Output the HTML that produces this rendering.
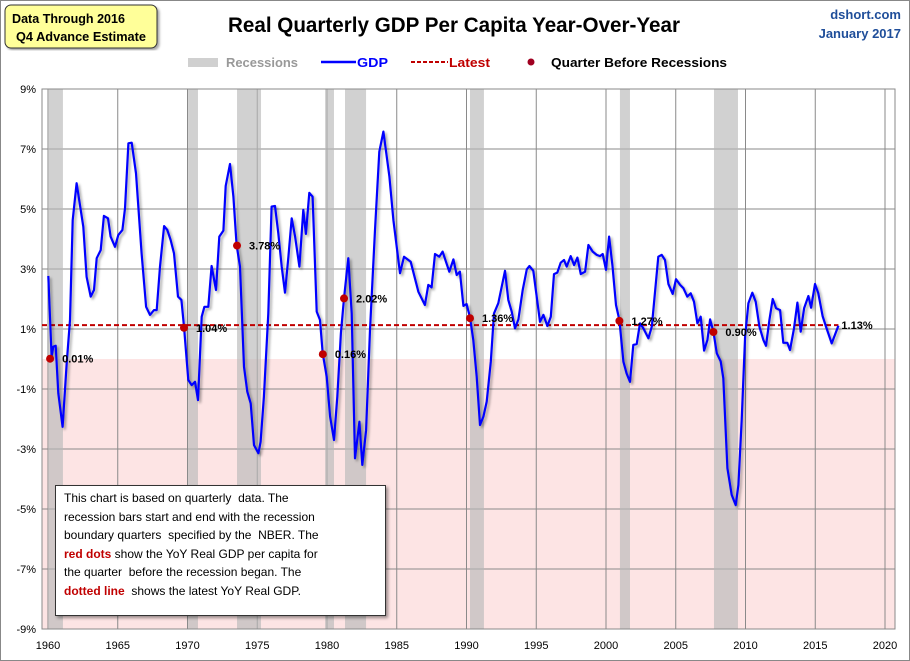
<!DOCTYPE html>
<html><head><meta charset="utf-8"><style>
body{margin:0;background:#fff;}
#wrap{position:relative;width:910px;height:661px;overflow:hidden;font-family:"Liberation Sans",sans-serif;}
svg text{font-family:"Liberation Sans",sans-serif;}
.note{position:absolute;left:55px;top:485px;width:313px;height:123px;border:1px solid #333;background:#fff;font-family:"Liberation Sans",sans-serif;font-size:12px;line-height:18.5px;padding:3px 8px;box-shadow:2px 2px 3px rgba(0,0,0,.4);white-space:nowrap;}
.note b{color:#c00000;}
</style></head><body>
<div id="wrap">
<svg id="svg" width="910" height="661" xmlns="http://www.w3.org/2000/svg">
<defs><filter id="sh" x="-5%" y="-5%" width="110%" height="110%"><feDropShadow dx="2" dy="2" stdDeviation="1.2" flood-color="#000" flood-opacity="0.35"/></filter></defs>
<rect x="0.5" y="0.5" width="909" height="660" fill="#fff" stroke="#888"/>
<rect x="5" y="5" width="152" height="43" rx="6" fill="#ffff99" stroke="#333" filter="url(#sh)"/>
<text x="12" y="23" font-size="13" font-weight="bold" textLength="113" lengthAdjust="spacingAndGlyphs">Data Through 2016</text>
<text x="16" y="41" font-size="13" font-weight="bold" textLength="130" lengthAdjust="spacingAndGlyphs">Q4 Advance Estimate</text>
<text x="228" y="32" font-size="21" font-weight="bold" textLength="452" lengthAdjust="spacingAndGlyphs">Real Quarterly GDP Per Capita Year-Over-Year</text>
<text x="901" y="19" font-size="13" font-weight="bold" fill="#1f4e9a" text-anchor="end">dshort.com</text>
<text x="901" y="38" font-size="13" font-weight="bold" fill="#1f4e9a" text-anchor="end">January 2017</text>
<g>
<rect x="188" y="58" width="30" height="9" fill="#d0d0d0"/>
<text x="226" y="67" font-size="13" font-weight="bold" fill="#999" textLength="72" lengthAdjust="spacingAndGlyphs">Recessions</text>
<line x1="321" y1="62" x2="356" y2="62" stroke="#0000ff" stroke-width="2.5"/>
<text x="357" y="67" font-size="13" font-weight="bold" fill="#0000ff" textLength="31" lengthAdjust="spacingAndGlyphs">GDP</text>
<line x1="411" y1="62" x2="448" y2="62" stroke="#c00000" stroke-width="2" stroke-dasharray="4,2"/>
<text x="449" y="67" font-size="13" font-weight="bold" fill="#c00000" textLength="41" lengthAdjust="spacingAndGlyphs">Latest</text>
<circle cx="531" cy="62" r="3.5" fill="#a00020"/>
<text x="551" y="67" font-size="13" font-weight="bold" textLength="176" lengthAdjust="spacingAndGlyphs">Quarter Before Recessions</text>
</g>
<g id="plot"></g>
</svg>
<div class="note">This chart is based on quarterly &nbsp;data. The<br>recession bars start and end with the recession<br>boundary quarters &nbsp;specified by the &nbsp;NBER. The<br><b>red dots</b> show the YoY Real GDP per capita for<br>the quarter &nbsp;before the recession began. The<br><b>dotted line</b> &nbsp;shows the latest YoY Real GDP.</div>
</div>
<script>
const yTicks=[9,7,5,3,1,-1,-3,-5,-7,-9];
const xTicks=[1960,1965,1970,1975,1980,1985,1990,1995,2000,2005,2010,2015,2020];
const recStart=[1960.0,1970.04,1973.55,1979.86,1981.29,1990.25,2001.0,2007.74];
const recEnd=[1961.07,1970.75,1975.27,1980.5,1982.8,1991.25,2001.72,2009.46];
const latest=1.13;
const dotYears=[1960.15,1969.75,1973.55,1979.7,1981.22,1990.25,2000.96,2007.7];
const dotVals=[0.01,1.04,3.78,0.16,2.02,1.36,1.27,0.90];
const dotLabels=["0.01%","1.04%","3.78%","0.16%","2.02%","1.36%","1.27%","0.90%"];
const gdpYears=[1960.02,1960.26,1960.38,1960.55,1960.74,1961.05,1961.34,1961.58,1961.77,1962.05,1962.53,1962.77,1963.06,1963.30,1963.49,1963.78,1964.01,1964.30,1964.49,1964.80,1965.04,1965.33,1965.52,1965.76,1966.00,1966.31,1966.71,1967.03,1967.31,1967.60,1967.79,1968.03,1968.32,1968.55,1968.79,1969.03,1969.32,1969.56,1969.75,1970.06,1970.30,1970.54,1970.75,1971.02,1971.21,1971.49,1971.73,1972.04,1972.28,1972.57,1972.74,1973.05,1973.29,1973.52,1973.76,1974.05,1974.29,1974.53,1974.77,1975.08,1975.24,1975.48,1975.79,1976.03,1976.27,1976.51,1976.75,1976.99,1977.23,1977.47,1977.71,1978.02,1978.30,1978.49,1978.73,1978.97,1979.26,1979.50,1979.69,1979.98,1980.22,1980.50,1980.74,1981.00,1981.22,1981.53,1981.77,1982.01,1982.32,1982.53,1982.80,1983.08,1983.44,1983.75,1984.04,1984.47,1984.76,1985.23,1985.52,1986.00,1986.55,1987.02,1987.26,1987.50,1987.74,1988.05,1988.29,1988.77,1989.06,1989.30,1989.53,1989.78,1990.01,1990.25,1990.49,1990.73,1990.97,1991.21,1991.45,1991.74,1991.97,1992.28,1992.76,1993.00,1993.24,1993.48,1993.72,1994.03,1994.32,1994.51,1994.79,1995.03,1995.27,1995.51,1995.80,1996.04,1996.27,1996.51,1996.75,1996.99,1997.18,1997.47,1997.71,1997.95,1998.19,1998.50,1998.74,1999.05,1999.33,1999.57,1999.76,2000.00,2000.22,2000.46,2000.72,2000.96,2001.25,2001.48,2001.72,2001.96,2002.20,2002.44,2002.68,2003.04,2003.28,2003.75,2003.99,2004.23,2004.47,2004.78,2005.02,2005.31,2005.55,2005.83,2006.07,2006.31,2006.55,2006.79,2007.03,2007.27,2007.46,2007.70,2007.94,2008.22,2008.41,2008.70,2009.01,2009.30,2009.49,2009.73,2009.97,2010.21,2010.49,2010.73,2011.00,2011.28,2011.47,2011.71,2011.95,2012.19,2012.48,2012.71,2013.00,2013.19,2013.48,2013.72,2013.96,2014.20,2014.51,2014.70,2014.98,2015.22,2015.53,2015.77,2016.18,2016.66];
const gdpVals=[2.77,0.08,0.41,0.44,-1.14,-2.26,-0.14,1.30,4.63,5.86,4.41,2.74,2.08,2.30,3.36,3.63,4.77,4.69,4.08,3.74,4.13,4.30,5.02,7.19,7.21,6.19,3.52,1.74,1.47,1.63,1.63,3.08,4.43,4.30,3.97,3.52,2.08,1.97,1.08,-0.70,-0.87,-0.76,-1.37,1.41,1.74,1.74,3.10,2.30,4.08,4.28,5.77,6.50,5.41,3.80,3.08,-0.26,-1.09,-1.48,-2.87,-3.14,-2.76,-1.26,1.52,5.08,5.10,4.19,3.08,2.21,3.41,4.69,4.08,3.08,4.97,4.17,5.54,5.41,1.58,1.30,0.19,-0.59,-1.92,-2.70,-1.26,0.86,2.02,3.36,1.52,-3.31,-2.09,-3.53,-2.37,0.97,4.30,6.91,7.58,6.08,4.63,2.86,3.41,3.24,2.24,1.80,2.47,2.39,3.50,3.41,3.58,2.91,3.32,2.80,2.91,1.77,1.83,1.39,0.63,-0.59,-2.20,-1.92,-1.42,-0.09,1.52,1.86,2.94,1.97,1.58,1.02,1.32,2.30,2.99,3.10,2.94,2.08,1.24,1.47,1.10,1.41,2.83,2.88,3.21,3.30,3.08,3.43,3.13,3.38,2.83,2.91,3.80,3.58,3.47,3.43,3.50,2.97,4.08,3.13,1.80,1.30,-0.09,-0.48,-0.76,0.47,0.50,1.19,1.02,0.69,1.08,3.41,3.47,3.30,2.50,2.17,2.66,2.47,2.36,2.08,2.19,1.91,1.19,1.41,0.28,0.63,1.32,0.91,0.19,-0.08,-0.64,-3.64,-4.53,-4.87,-4.20,-2.03,0.74,1.86,2.21,1.91,1.08,0.63,0.44,1.30,2.00,1.69,1.63,0.54,0.54,0.30,1.02,1.88,0.91,1.69,2.10,1.71,2.50,2.19,1.43,1.08,0.52,1.11];

const NS='http://www.w3.org/2000/svg';
const L=42,R=895,T=89,B=629;
function X(yr){return 48+(yr-1960)*13.95;}
function Y(v){return 359-v*30;}
const g=document.getElementById('plot');
function mk(tag,attrs,parent){const e=document.createElementNS(NS,tag);for(const k in attrs)e.setAttribute(k,attrs[k]);(parent||g).appendChild(e);return e;}
let e;
e=mk('rect',{x:L,y:T,width:R-L,height:B-T,fill:'#fff'});


e=mk('rect',{x:L,y:Y(0),width:R-L,height:B-Y(0),fill:'#fde4e4'});


yTicks.forEach(v=>{
 e=mk('line',{x1:L,x2:R,y1:Y(v),y2:Y(v),stroke:'#8a8a8a','stroke-width':1});
 
 
 e=mk('text',{x:36,y:Y(v)+4,'font-size':11,'text-anchor':'end'});e.textContent=v+'%';
 
 
});
xTicks.forEach(v=>{
 e=mk('line',{x1:X(v),x2:X(v),y1:T,y2:B,stroke:'#8a8a8a','stroke-width':1});
 
 
 e=mk('text',{x:X(v),y:649,'font-size':11,'text-anchor':'middle'});e.textContent=v;
 
 
});
for(let i=0;i<recStart.length;i++){
 e=mk('rect',{x:X(recStart[i]),y:T,width:X(recEnd[i])-X(recStart[i]),height:B-T,fill:'#b8b8b8','fill-opacity':0.65});
 
 
}
e=mk('rect',{x:L,y:T,width:R-L,height:B-T,fill:'none',stroke:'#8a8a8a'});


e=mk('line',{x1:L,x2:X(gdpYears[gdpYears.length-1]),y1:Y(latest),y2:Y(latest),stroke:'#c00000','stroke-width':2,'stroke-dasharray':'5,3'});


let d='';gdpYears.forEach((yr,i)=>{d+=(i?'L':'M')+X(yr).toFixed(1)+','+Y(gdpVals[i]).toFixed(1);});
e=mk('path',{d:d,fill:'none',stroke:'#0000ff','stroke-width':2.2,'stroke-linejoin':'round',filter:'url(#sh)'});


dotYears.forEach((yr,i)=>{
 e=mk('circle',{cx:X(yr),cy:Y(dotVals[i]),r:4,fill:'#c00000'});
 
 
 e=mk('text',{x:X(yr)+12,y:Y(dotVals[i])+4,'font-size':11,'font-weight':'bold'});e.textContent=dotLabels[i];
 
 
});
e=mk('text',{x:X(gdpYears[gdpYears.length-1])+3,y:Y(latest)+4,'font-size':11,'font-weight':'bold'});e.textContent=latest.toFixed(2)+'%';


</script>
</body></html>
